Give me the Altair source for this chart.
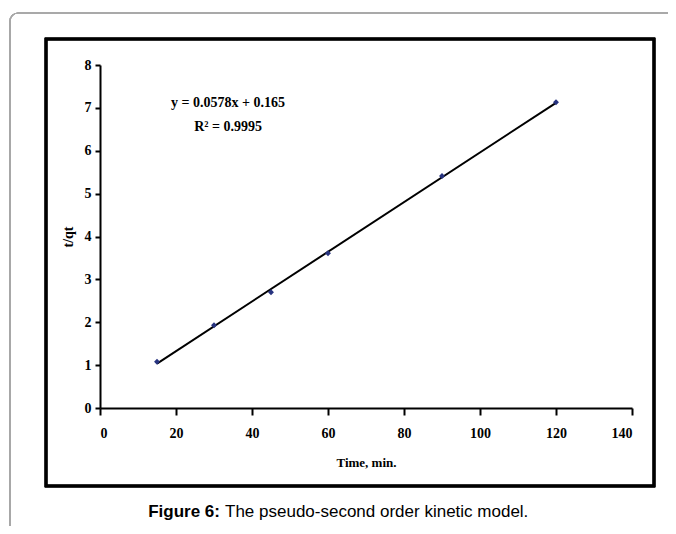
import altair as alt
import pandas as pd

time_min = [15, 30, 45, 60, 90, 120]
t_qt = [1.08, 1.93, 2.70, 3.61, 5.41, 7.13]
x_ticks = [0, 20, 40, 60, 80, 100, 120, 140]
y_ticks = [0, 1, 2, 3, 4, 5, 6, 7, 8]
eq_lines = ["y = 0.0578x + 0.165", "R² = 0.9995"]
eq_x = [33.7, 33.7]
eq_y = [7.11, 6.55]
caption_bold = "Figure 6:"
caption_rest = "The pseudo-second order kinetic model."

df = pd.DataFrame({"t": time_min, "q": t_qt})
eq_df = pd.DataFrame({"label": eq_lines, "x": eq_x, "y": eq_y})

serif = "Liberation Serif"
xs = alt.Scale(domain=[0, 140], nice=False)
ys = alt.Scale(domain=[0, 8], nice=False)

x_axis = alt.Axis(values=x_ticks, title="Time, min.", grid=False, domainColor="black",
                  domainWidth=2, tickColor="black", tickWidth=2, tickSize=7,
                  labelFont=serif, labelFontWeight="bold", labelFontSize=14, labelColor="black",
                  labelPadding=11, titleFont=serif, titleFontWeight="bold", titleFontSize=13,
                  titleColor="black", titlePadding=16)
y_axis = alt.Axis(values=y_ticks, title="t/qt", grid=False, domainColor="black",
                  domainWidth=2, tickColor="black", tickWidth=2, tickSize=5,
                  labelFont=serif, labelFontWeight="bold", labelFontSize=14, labelColor="black",
                  labelPadding=4, titleFont=serif, titleFontWeight="bold", titleFontSize=14,
                  titleColor="black", titlePadding=9)

base = alt.Chart(df)

grey_box = base.mark_rect(fill=None, stroke="#a8a8a8", strokeWidth=1.2, cornerRadius=8).encode(
    x=alt.value(-90), x2=alt.value(640), y=alt.value(-52), y2=alt.value(560))
black_box = base.mark_rect(fill=None, stroke="black", strokeWidth=2.5).encode(
    x=alt.value(-54), x2=alt.value(554), y=alt.value(-26), y2=alt.value(421))

line = base.transform_regression("t", "q").mark_line(color="black", strokeWidth=2).encode(
    x=alt.X("t:Q", scale=xs, axis=x_axis), y=alt.Y("q:Q", scale=ys, axis=y_axis))

pts = base.mark_point(shape="diamond", filled=True, color="#27337f", size=35, opacity=1).encode(
    x=alt.X("t:Q", scale=xs), y=alt.Y("q:Q", scale=ys))

eq = alt.Chart(eq_df).mark_text(font=serif, fontWeight="bold", fontSize=14, color="black").encode(
    x=alt.X("x:Q", scale=xs), y=alt.Y("y:Q", scale=ys), text="label:N")

cap1 = alt.Chart(pd.DataFrame({"c": [caption_bold]})).mark_text(
    font="Liberation Sans", fontWeight="bold", fontSize=17, align="right", color="black").encode(
    x=alt.value(120), y=alt.value(447), text="c:N")
cap2 = alt.Chart(pd.DataFrame({"c": [caption_rest]})).mark_text(
    font="Liberation Sans", fontSize=17, align="left", color="black").encode(
    x=alt.value(125), y=alt.value(447), text="c:N")

chart = alt.layer(grey_box, black_box, line, pts, eq, cap1, cap2).properties(
    width=532, height=343,
    background="white",
    autosize=alt.AutoSizeParams(type="none"),
    padding={"left": 92, "top": 57, "right": 36, "bottom": 118},
).configure_view(stroke="transparent", strokeWidth=0)

chart.save("out.html", embed_options={"renderer": "svg", "actions": False})
